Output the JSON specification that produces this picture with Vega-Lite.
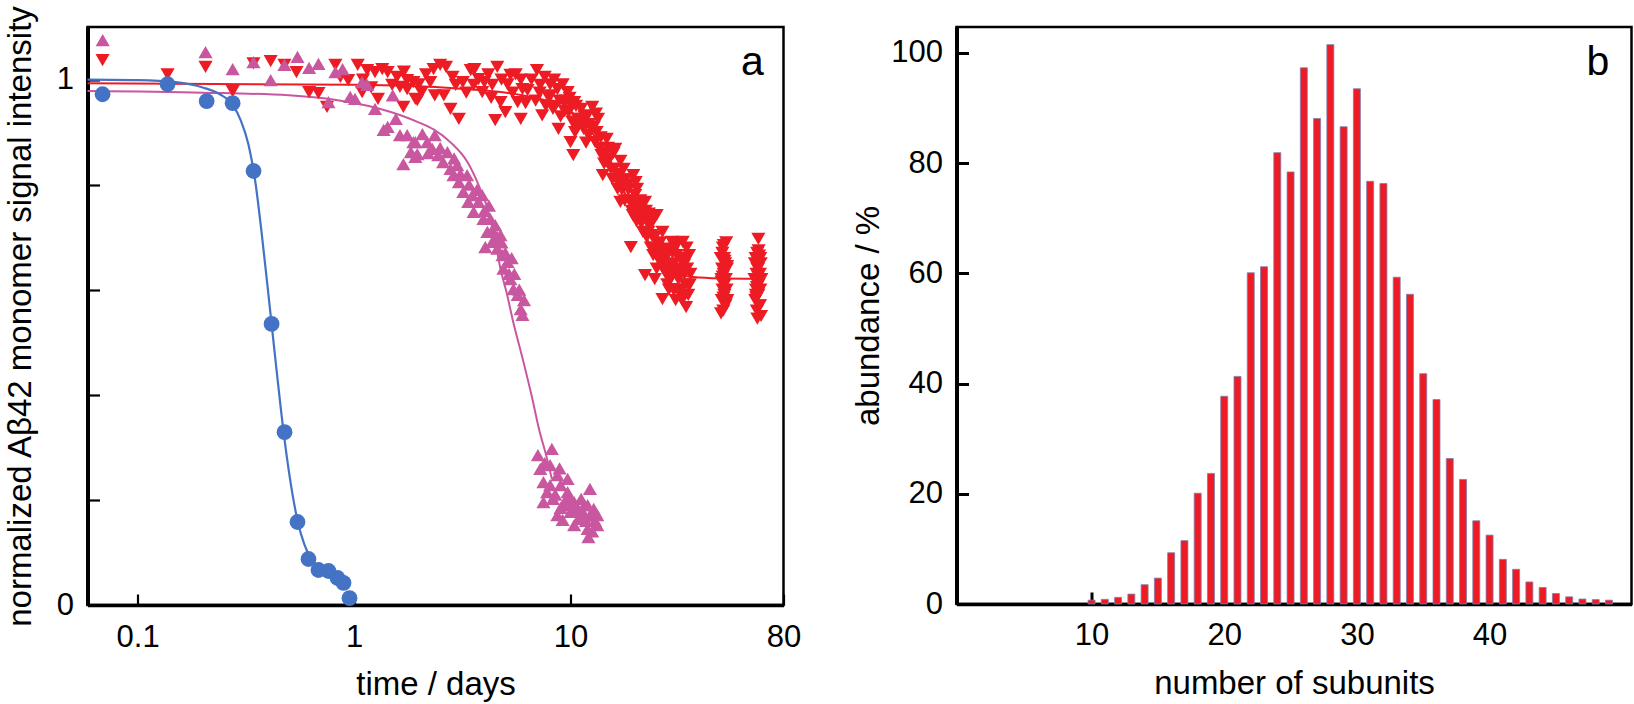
{
  "$schema": "https://vega.github.io/schema/vega-lite/v6.json",
  "background": "white",
  "padding": {"left": 2.5, "top": 3, "right": 1, "bottom": 0},
  "spacing": 173,
  "bounds": "flush",
  "config": {
    "font": "Liberation Sans",
    "view": {"stroke": "black", "strokeWidth": 2.5},
    "axis": {
      "domainColor": "black", "domainWidth": 3.5, "tickColor": "black",
      "labelColor": "black", "titleColor": "black",
      "labelFont": "Liberation Sans", "titleFont": "Liberation Sans",
      "labelFontSize": 31, "titleFontSize": 33, "titleFontWeight": "normal",
      "grid": false, "labelFlush": false, "tickSize": -12, "tickWidth": 2.2
    }
  },
  "datasets": {
    "blue": [
      {"t":0.0689,"v":0.972},{"t":0.1376,"v":0.991},{"t":0.2085,"v":0.959},{"t":0.2748,"v":0.955},
      {"t":0.3434,"v":0.826},{"t":0.416,"v":0.535},{"t":0.4775,"v":0.329},{"t":0.548,"v":0.158},
      {"t":0.616,"v":0.0875},{"t":0.685,"v":0.0666},{"t":0.762,"v":0.0647},{"t":0.839,"v":0.0514},
      {"t":0.894,"v":0.042},{"t":0.953,"v":0.013}
    ],
    "fitBlue": [
      {"t":0.0587,"v":1.0},{"t":0.1,"v":0.999},{"t":0.15,"v":0.995},{"t":0.2,"v":0.985},{"t":0.24,"v":0.972},
      {"t":0.275,"v":0.952},{"t":0.3,"v":0.922},{"t":0.325,"v":0.877},{"t":0.35,"v":0.805},{"t":0.375,"v":0.705},
      {"t":0.4,"v":0.6},{"t":0.43,"v":0.48},{"t":0.46,"v":0.37},{"t":0.49,"v":0.28},{"t":0.52,"v":0.21},
      {"t":0.55,"v":0.158},{"t":0.59,"v":0.115},{"t":0.63,"v":0.09},{"t":0.7,"v":0.07},{"t":0.8,"v":0.055},{"t":0.9,"v":0.04}
    ],
    "fitMagenta": [
      {"t":0.0587,"v":0.978},{"t":0.2,"v":0.975},{"t":0.5,"v":0.97},{"t":0.8,"v":0.962},{"t":1.0,"v":0.955},
      {"t":1.3,"v":0.945},{"t":1.64,"v":0.932},{"t":2.0,"v":0.918},{"t":2.33,"v":0.905},{"t":2.8,"v":0.88},
      {"t":3.34,"v":0.843},{"t":3.8,"v":0.795},{"t":4.14,"v":0.754},{"t":4.5,"v":0.69},{"t":4.75,"v":0.64},
      {"t":5.1,"v":0.59},{"t":5.4,"v":0.544},{"t":6.0,"v":0.47},{"t":6.6,"v":0.4},{"t":7.2,"v":0.33},
      {"t":7.66,"v":0.29},{"t":8.2,"v":0.24}
    ],
    "fitRed": [
      {"t":0.0587,"v":0.993},{"t":1,"v":0.99},{"t":3,"v":0.983},{"t":6,"v":0.97},{"t":8,"v":0.958},
      {"t":10,"v":0.94},{"t":12,"v":0.91},{"t":14,"v":0.87},{"t":16,"v":0.83},{"t":18,"v":0.78},
      {"t":20,"v":0.74},{"t":23,"v":0.69},{"t":26,"v":0.655},{"t":30,"v":0.635},{"t":35,"v":0.625},
      {"t":45,"v":0.622},{"t":76,"v":0.621}
    ],
    "magenta": [
      {"t":0.069,"v":1.075},{"t":0.206,"v":1.052},{"t":0.275,"v":1.02},{"t":0.343,"v":1.033},{"t":0.412,"v":0.999},
      {"t":0.477,"v":1.028},{"t":0.548,"v":1.043},{"t":0.62,"v":1.022},{"t":0.685,"v":1.03},{"t":0.762,"v":0.957},
      {"t":0.82,"v":1.014},{"t":0.885,"v":1.02},{"t":0.96,"v":0.967},{"t":1.01,"v":0.963},{"t":1.09,"v":0.995},
      {"t":1.15,"v":0.99},{"t":1.25,"v":0.944},{"t":1.37,"v":0.904},{"t":1.43,"v":0.91},{"t":1.51,"v":0.97},
      {"t":1.56,"v":0.925},{"t":1.63,"v":0.894},{"t":1.69,"v":0.839},{"t":1.76,"v":0.894},{"t":1.83,"v":0.862},
      {"t":1.92,"v":0.853},{"t":1.92,"v":0.881},{"t":1.88,"v":0.881},{"t":1.96,"v":0.858},{"t":2.07,"v":0.896},
      {"t":2.18,"v":0.881},{"t":2.3,"v":0.868},{"t":2.36,"v":0.894},{"t":2.45,"v":0.856},{"t":2.58,"v":0.843},
      {"t":2.7,"v":0.862},{"t":2.79,"v":0.83},{"t":2.88,"v":0.818},{"t":3.0,"v":0.837},{"t":3.05,"v":0.805},
      {"t":3.2,"v":0.786},{"t":3.33,"v":0.818},{"t":3.37,"v":0.767},{"t":3.52,"v":0.78},{"t":3.57,"v":0.748},
      {"t":3.76,"v":0.767},{"t":3.91,"v":0.78},{"t":3.96,"v":0.735},{"t":4.04,"v":0.681},{"t":4.13,"v":0.71},
      {"t":4.26,"v":0.735},{"t":4.35,"v":0.691},{"t":4.49,"v":0.723},{"t":4.59,"v":0.678},{"t":4.75,"v":0.704},
      {"t":4.85,"v":0.666},{"t":4.9,"v":0.64},{"t":5.12,"v":0.653},{"t":5.28,"v":0.62},{"t":5.45,"v":0.601},
      {"t":5.7,"v":0.59},{"t":5.89,"v":0.563},{"t":6.0,"v":0.552},{"t":2.2,"v":0.86},{"t":2.5,"v":0.87},
      {"t":2.9,"v":0.85},{"t":3.1,"v":0.82},{"t":3.4,"v":0.8},{"t":3.7,"v":0.79},{"t":4.0,"v":0.75},
      {"t":4.2,"v":0.76},{"t":4.4,"v":0.71},{"t":4.6,"v":0.7},{"t":5.0,"v":0.67},{"t":5.2,"v":0.63},
      {"t":5.5,"v":0.63},{"t":5.8,"v":0.6},{"t":6.1,"v":0.58},{"t":4.8,"v":0.69},{"t":5.35,"v":0.66},
      {"t":7.07,"v":0.285},{"t":8.2,"v":0.297},{"t":7.25,"v":0.259},{"t":8.05,"v":0.266},{"t":7.5,"v":0.234},
      {"t":8.7,"v":0.247},{"t":7.8,"v":0.215},{"t":9.0,"v":0.228},{"t":9.7,"v":0.215},{"t":7.5,"v":0.196},
      {"t":8.3,"v":0.202},{"t":9.3,"v":0.19},{"t":10.4,"v":0.196},{"t":11.2,"v":0.202},{"t":12.3,"v":0.221},
      {"t":12.0,"v":0.19},{"t":12.8,"v":0.183},{"t":13.3,"v":0.171},{"t":9.2,"v":0.162},{"t":10.4,"v":0.152},
      {"t":11.2,"v":0.164},{"t":12.0,"v":0.145},{"t":12.1,"v":0.129},{"t":13.3,"v":0.152},{"t":11.4,"v":0.177},
      {"t":10.0,"v":0.177},{"t":8.7,"v":0.171},{"t":8.05,"v":0.228},{"t":9.7,"v":0.24},{"t":8.5,"v":0.21},
      {"t":9.5,"v":0.2},{"t":10.2,"v":0.19},{"t":10.8,"v":0.18},{"t":11.6,"v":0.19},{"t":12.5,"v":0.17},
      {"t":13.0,"v":0.16},{"t":11.8,"v":0.16},{"t":10.9,"v":0.165},{"t":12.6,"v":0.14},{"t":9.0,"v":0.185},
      {"t":9.9,"v":0.205},{"t":7.6,"v":0.27},{"t":8.9,"v":0.26}
    ],
    "red": [
      {"t":0.0689,"v":1.037},{"t":0.1376,"v":1.01},{"t":0.206,"v":1.024},{"t":0.275,"v":0.978},{"t":0.343,"v":1.031},
      {"t":0.412,"v":1.035},{"t":0.477,"v":1.028},{"t":0.542,"v":1.014},{"t":0.62,"v":0.976},{"t":0.685,"v":0.974},
      {"t":0.75,"v":0.948},{"t":0.82,"v":1.028},{"t":0.865,"v":1.005},{"t":0.94,"v":0.999},{"t":1.04,"v":1.028},
      {"t":1.09,"v":0.976},{"t":1.15,"v":1.018},{"t":1.25,"v":1.014},{"t":1.29,"v":0.963},{"t":1.43,"v":1.014},
      {"t":1.58,"v":1.005},{"t":1.63,"v":0.986},{"t":1.69,"v":0.948},{"t":1.76,"v":0.982},{"t":1.88,"v":0.995},
      {"t":1.96,"v":0.961},{"t":1.76,"v":0.999},{"t":1.92,"v":0.963},{"t":1.99,"v":0.991},{"t":2.15,"v":1.01},
      {"t":2.33,"v":1.02},{"t":2.36,"v":0.97},{"t":2.5,"v":1.028},{"t":2.66,"v":1.024},{"t":2.79,"v":0.944},
      {"t":2.95,"v":0.99},{"t":3.05,"v":0.925},{"t":3.18,"v":0.995},{"t":3.46,"v":1.018},{"t":3.57,"v":0.99},
      {"t":3.76,"v":1.001},{"t":3.91,"v":0.976},{"t":4.17,"v":1.01},{"t":4.35,"v":0.99},{"t":4.49,"v":0.923},
      {"t":4.59,"v":1.024},{"t":4.75,"v":0.957},{"t":5.0,"v":0.938},{"t":5.12,"v":0.991},{"t":5.28,"v":1.009},
      {"t":5.58,"v":1.01},{"t":5.7,"v":0.957},{"t":5.89,"v":0.925},{"t":6.0,"v":0.982},{"t":6.33,"v":0.98},
      {"t":7.0,"v":1.018},{"t":7.25,"v":0.99},{"t":7.4,"v":0.932},{"t":7.6,"v":1.005},{"t":7.9,"v":0.967},
      {"t":8.05,"v":0.991},{"t":8.3,"v":0.944},{"t":8.7,"v":0.982},{"t":8.8,"v":0.906},{"t":9.2,"v":0.991},
      {"t":9.3,"v":0.957},{"t":9.7,"v":0.976},{"t":9.8,"v":0.938},{"t":10.0,"v":0.881},{"t":10.3,"v":0.856},
      {"t":10.4,"v":0.957},{"t":10.8,"v":0.925},{"t":11.2,"v":0.944},{"t":11.5,"v":0.906},{"t":12.0,"v":0.932},
      {"t":12.1,"v":0.894},{"t":12.6,"v":0.948},{"t":13.0,"v":0.881},{"t":13.4,"v":0.925},{"t":13.9,"v":0.856},
      {"t":14.1,"v":0.818},{"t":14.7,"v":0.887},{"t":14.8,"v":0.843},{"t":15.6,"v":0.811},{"t":16.1,"v":0.868},
      {"t":16.5,"v":0.792},{"t":17.0,"v":0.767},{"t":17.6,"v":0.83},{"t":18.3,"v":0.799},{"t":19.0,"v":0.767},
      {"t":19.4,"v":0.742},{"t":19.5,"v":0.818},{"t":20.3,"v":0.792},{"t":20.9,"v":0.754},{"t":21.4,"v":0.729},
      {"t":22.1,"v":0.767},{"t":22.8,"v":0.735},{"t":23.7,"v":0.704},{"t":24.1,"v":0.666},{"t":25.0,"v":0.742},
      {"t":25.4,"v":0.685},{"t":26.3,"v":0.653},{"t":26.6,"v":0.71},{"t":27.8,"v":0.678},{"t":27.8,"v":0.628},
      {"t":28.8,"v":0.647},{"t":29.4,"v":0.691},{"t":29.8,"v":0.601},{"t":31.0,"v":0.666},{"t":31.5,"v":0.62},
      {"t":32.3,"v":0.59},{"t":33.0,"v":0.691},{"t":33.4,"v":0.647},{"t":34.2,"v":0.567},{"t":34.9,"v":0.609},
      {"t":35.3,"v":0.666},{"t":19.0,"v":0.681},{"t":22.1,"v":0.628},{"t":26.6,"v":0.582},
      {"t":8.5,"v":0.95},{"t":9.0,"v":0.93},{"t":9.5,"v":0.96},{"t":10.2,"v":0.92},{"t":10.6,"v":0.95},
      {"t":11.6,"v":0.93},{"t":12.8,"v":0.91},{"t":10.5,"v":0.9},{"t":11.0,"v":0.92},{"t":11.8,"v":0.88},
      {"t":12.4,"v":0.91},{"t":13.2,"v":0.9},{"t":13.6,"v":0.87},{"t":14.4,"v":0.86},{"t":15.2,"v":0.85},
      {"t":15.9,"v":0.83},{"t":16.8,"v":0.82},{"t":17.3,"v":0.79},{"t":18.0,"v":0.81},{"t":18.7,"v":0.77},
      {"t":19.8,"v":0.76},{"t":20.6,"v":0.74},{"t":21.0,"v":0.77},{"t":21.8,"v":0.74},{"t":22.5,"v":0.7},
      {"t":23.2,"v":0.72},{"t":24.5,"v":0.7},{"t":25.6,"v":0.67},{"t":26.0,"v":0.69},{"t":27.0,"v":0.66},
      {"t":27.3,"v":0.64},{"t":28.3,"v":0.67},{"t":29.0,"v":0.62},{"t":30.0,"v":0.65},{"t":30.5,"v":0.68},
      {"t":31.8,"v":0.64},{"t":32.6,"v":0.66},{"t":33.8,"v":0.61},{"t":34.6,"v":0.64},{"t":35.8,"v":0.63},
      {"t":32.0,"v":0.6},{"t":30.6,"v":0.58},{"t":28.5,"v":0.6},{"t":25.0,"v":0.64},{"t":24.5,"v":0.62},
      {"t":1.1,"v":1.0},{"t":1.2,"v":0.985},{"t":1.35,"v":1.02},{"t":1.5,"v":0.99},{"t":1.7,"v":1.015},
      {"t":2.05,"v":0.975},{"t":2.25,"v":0.995},{"t":2.6,"v":0.97},{"t":2.85,"v":1.005},{"t":3.3,"v":0.975},
      {"t":3.6,"v":1.02},{"t":4.0,"v":0.995},{"t":4.3,"v":0.965},{"t":4.8,"v":1.0},{"t":5.4,"v":0.975},
      {"t":5.9,"v":1.0},{"t":6.2,"v":0.955},{"t":6.6,"v":1.0},{"t":6.9,"v":0.96},{"t":7.2,"v":0.975},
      {"t":7.7,"v":0.95},{"t":8.1,"v":0.97},{"t":8.4,"v":1.0},{"t":8.9,"v":0.96},{"t":9.4,"v":0.94},
      {"t":9.9,"v":0.965},{"t":10.1,"v":0.95},{"t":10.7,"v":0.91},{"t":11.3,"v":0.925},{"t":12.2,"v":0.915},
      {"t":13.1,"v":0.935},{"t":13.8,"v":0.89},{"t":14.3,"v":0.84},{"t":14.9,"v":0.87},{"t":15.4,"v":0.83},
      {"t":15.8,"v":0.86},{"t":16.3,"v":0.81},{"t":16.9,"v":0.8},{"t":17.4,"v":0.81},{"t":17.8,"v":0.77},
      {"t":18.5,"v":0.79},{"t":19.2,"v":0.75},{"t":19.9,"v":0.78},{"t":20.2,"v":0.73},{"t":21.2,"v":0.75},
      {"t":21.6,"v":0.71},{"t":22.3,"v":0.75},{"t":22.9,"v":0.71},{"t":23.5,"v":0.68},{"t":23.9,"v":0.73},
      {"t":24.8,"v":0.68},{"t":25.3,"v":0.66},{"t":26.8,"v":0.64},{"t":27.5,"v":0.66},{"t":28.0,"v":0.61},
      {"t":29.2,"v":0.64},{"t":30.2,"v":0.6},{"t":30.8,"v":0.63},{"t":31.2,"v":0.69},{"t":32.0,"v":0.63},
      {"t":32.8,"v":0.58},{"t":33.6,"v":0.63},{"t":34.4,"v":0.68},{"t":35.0,"v":0.59},{"t":35.6,"v":0.61},
      {"t":34.0,"v":0.655},{"t":29.6,"v":0.67},{"t":26.2,"v":0.675},{"t":23.0,"v":0.745},{"t":20.0,"v":0.805},
      {"t":17.0,"v":0.845},
      {"t":49.5,"v":0.66},{"t":49.8,"v":0.62},{"t":50.0,"v":0.58},{"t":50.2,"v":0.64},{"t":50.4,"v":0.6},
      {"t":50.6,"v":0.68},{"t":50.8,"v":0.56},{"t":51.0,"v":0.63},{"t":51.2,"v":0.66},{"t":51.4,"v":0.59},
      {"t":51.6,"v":0.61},{"t":51.8,"v":0.65},{"t":52.0,"v":0.57},{"t":52.2,"v":0.62},{"t":52.4,"v":0.69},
      {"t":52.6,"v":0.6},{"t":52.8,"v":0.64},{"t":53.0,"v":0.58},{"t":49.6,"v":0.555},{"t":50.3,"v":0.67},
      {"t":51.5,"v":0.655},{"t":52.3,"v":0.575},{"t":50.9,"v":0.585},{"t":49.9,"v":0.615},{"t":52.9,"v":0.645},
      {"t":51.1,"v":0.685},{"t":50.5,"v":0.625},
      {"t":70.8,"v":0.62},{"t":71.1,"v":0.65},{"t":71.4,"v":0.58},{"t":71.7,"v":0.66},{"t":72.0,"v":0.6},
      {"t":72.3,"v":0.63},{"t":72.6,"v":0.56},{"t":72.9,"v":0.67},{"t":73.2,"v":0.61},{"t":73.5,"v":0.64},
      {"t":73.8,"v":0.59},{"t":74.1,"v":0.62},{"t":74.4,"v":0.665},{"t":74.7,"v":0.57},{"t":75.0,"v":0.63},
      {"t":75.3,"v":0.6},{"t":75.6,"v":0.65},{"t":75.9,"v":0.55},{"t":76.2,"v":0.62},{"t":71.9,"v":0.59},
      {"t":73.0,"v":0.64},{"t":74.0,"v":0.61},{"t":75.2,"v":0.66},{"t":73.8,"v":0.697},{"t":73.0,"v":0.545},
      {"t":74.0,"v":0.675},{"t":72.2,"v":0.585},{"t":75.0,"v":0.57},{"t":72.7,"v":0.605}
    ],
    "bars": [
      {"n":10,"a":0.7},{"n":11,"a":0.85},{"n":12,"a":1.2},{"n":13,"a":1.8},{"n":14,"a":3.5},{"n":15,"a":4.7},
      {"n":16,"a":9.3},{"n":17,"a":11.5},{"n":18,"a":20.1},{"n":19,"a":23.7},{"n":20,"a":37.7},{"n":21,"a":41.3},
      {"n":22,"a":60.1},{"n":23,"a":61.2},{"n":24,"a":81.9},{"n":25,"a":78.4},{"n":26,"a":97.3},{"n":27,"a":88.1},
      {"n":28,"a":101.5},{"n":29,"a":86.6},{"n":30,"a":93.5},{"n":31,"a":76.7},{"n":32,"a":76.3},{"n":33,"a":59.3},
      {"n":34,"a":56.2},{"n":35,"a":41.8},{"n":36,"a":37.1},{"n":37,"a":26.4},{"n":38,"a":22.6},{"n":39,"a":15.1},
      {"n":40,"a":12.5},{"n":41,"a":8.1},{"n":42,"a":6.3},{"n":43,"a":4.0},{"n":44,"a":3.0},{"n":45,"a":1.9},
      {"n":46,"a":1.3},{"n":47,"a":0.9},{"n":48,"a":0.8},{"n":49,"a":0.7}
    ],
    "labelA": [{"label": "a"}],
    "labelB": [{"label": "b"}]
  },
  "hconcat": [
    {
      "width": 696,
      "height": 578,
      "layer": [
        {"data": {"name": "fitRed"}, "mark": {"type": "line", "color": "#ed1c24", "strokeWidth": 2, "interpolate": "monotone"},
          "encoding": {
            "x": {"field": "t", "type": "quantitative",
              "scale": {"type": "log", "domain": [0.0587, 96.4], "nice": false},
              "axis": {"values": [0.1, 1, 10, 96.4], "title": "time / days",
                "labelExpr": "datum.value > 50 ? '80' : format(datum.value, '~g')",
                "labelPadding": 28, "titlePadding": 16, "tickSize": -11}},
            "y": {"field": "v", "type": "quantitative",
              "scale": {"domain": [0, 1.1], "nice": false, "zero": false},
              "axis": {"values": [0, 0.2, 0.4, 0.6, 0.8, 1], "title": "normalized Aβ42 monomer signal intensity",
                "labelExpr": "datum.value == 0 ? '0' : (datum.value == 1 ? '1' : '')",
                "labelPadding": 26, "titlePadding": 19, "domainWidth": 4}}
          }},
        {"data": {"name": "fitMagenta"}, "mark": {"type": "line", "color": "#c957a0", "strokeWidth": 2, "interpolate": "monotone"},
          "encoding": {
            "x": {"field": "t", "type": "quantitative",
              "scale": {"type": "log", "domain": [0.0587, 96.4], "nice": false},
              "axis": {"values": [0.1, 1, 10, 96.4], "title": "time / days",
                "labelExpr": "datum.value > 50 ? '80' : format(datum.value, '~g')",
                "labelPadding": 28, "titlePadding": 16, "tickSize": -11}},
            "y": {"field": "v", "type": "quantitative",
              "scale": {"domain": [0, 1.1], "nice": false, "zero": false},
              "axis": {"values": [0, 0.2, 0.4, 0.6, 0.8, 1], "title": "normalized Aβ42 monomer signal intensity",
                "labelExpr": "datum.value == 0 ? '0' : (datum.value == 1 ? '1' : '')",
                "labelPadding": 26, "titlePadding": 19, "domainWidth": 4}}
          }},
        {"data": {"name": "fitBlue"}, "mark": {"type": "line", "color": "#4472c4", "strokeWidth": 2.2, "interpolate": "monotone"},
          "encoding": {
            "x": {"field": "t", "type": "quantitative",
              "scale": {"type": "log", "domain": [0.0587, 96.4], "nice": false},
              "axis": {"values": [0.1, 1, 10, 96.4], "title": "time / days",
                "labelExpr": "datum.value > 50 ? '80' : format(datum.value, '~g')",
                "labelPadding": 28, "titlePadding": 16, "tickSize": -11}},
            "y": {"field": "v", "type": "quantitative",
              "scale": {"domain": [0, 1.1], "nice": false, "zero": false},
              "axis": {"values": [0, 0.2, 0.4, 0.6, 0.8, 1], "title": "normalized Aβ42 monomer signal intensity",
                "labelExpr": "datum.value == 0 ? '0' : (datum.value == 1 ? '1' : '')",
                "labelPadding": 26, "titlePadding": 19, "domainWidth": 4}}
          }},
        {"data": {"name": "red"}, "mark": {"type": "point", "shape": "triangle-down", "filled": true, "color": "#ed1c24", "opacity": 1, "size": 200},
          "encoding": {
            "x": {"field": "t", "type": "quantitative",
              "scale": {"type": "log", "domain": [0.0587, 96.4], "nice": false},
              "axis": {"values": [0.1, 1, 10, 96.4], "title": "time / days",
                "labelExpr": "datum.value > 50 ? '80' : format(datum.value, '~g')",
                "labelPadding": 28, "titlePadding": 16, "tickSize": -11}},
            "y": {"field": "v", "type": "quantitative",
              "scale": {"domain": [0, 1.1], "nice": false, "zero": false},
              "axis": {"values": [0, 0.2, 0.4, 0.6, 0.8, 1], "title": "normalized Aβ42 monomer signal intensity",
                "labelExpr": "datum.value == 0 ? '0' : (datum.value == 1 ? '1' : '')",
                "labelPadding": 26, "titlePadding": 19, "domainWidth": 4}}
          }},
        {"data": {"name": "magenta"}, "mark": {"type": "point", "shape": "triangle-up", "filled": true, "color": "#c957a0", "opacity": 1, "size": 200},
          "encoding": {
            "x": {"field": "t", "type": "quantitative",
              "scale": {"type": "log", "domain": [0.0587, 96.4], "nice": false},
              "axis": {"values": [0.1, 1, 10, 96.4], "title": "time / days",
                "labelExpr": "datum.value > 50 ? '80' : format(datum.value, '~g')",
                "labelPadding": 28, "titlePadding": 16, "tickSize": -11}},
            "y": {"field": "v", "type": "quantitative",
              "scale": {"domain": [0, 1.1], "nice": false, "zero": false},
              "axis": {"values": [0, 0.2, 0.4, 0.6, 0.8, 1], "title": "normalized Aβ42 monomer signal intensity",
                "labelExpr": "datum.value == 0 ? '0' : (datum.value == 1 ? '1' : '')",
                "labelPadding": 26, "titlePadding": 19, "domainWidth": 4}}
          }},
        {"data": {"name": "blue"}, "mark": {"type": "point", "shape": "circle", "filled": true, "color": "#4472c4", "opacity": 1, "size": 250},
          "encoding": {
            "x": {"field": "t", "type": "quantitative",
              "scale": {"type": "log", "domain": [0.0587, 96.4], "nice": false},
              "axis": {"values": [0.1, 1, 10, 96.4], "title": "time / days",
                "labelExpr": "datum.value > 50 ? '80' : format(datum.value, '~g')",
                "labelPadding": 28, "titlePadding": 16, "tickSize": -11}},
            "y": {"field": "v", "type": "quantitative",
              "scale": {"domain": [0, 1.1], "nice": false, "zero": false},
              "axis": {"values": [0, 0.2, 0.4, 0.6, 0.8, 1], "title": "normalized Aβ42 monomer signal intensity",
                "labelExpr": "datum.value == 0 ? '0' : (datum.value == 1 ? '1' : '')",
                "labelPadding": 26, "titlePadding": 19, "domainWidth": 4}}
          }},
        {"data": {"name": "labelA"},
          "mark": {"type": "text", "fontSize": 41, "font": "Liberation Sans", "align": "center", "baseline": "alphabetic", "color": "black"},
          "encoding": {
            "x": {"datum": 69.3, "type": "quantitative",
              "scale": {"type": "log", "domain": [0.0587, 96.4], "nice": false},
              "axis": {"values": [0.1, 1, 10, 96.4], "title": "time / days",
                "labelExpr": "datum.value > 50 ? '80' : format(datum.value, '~g')",
                "labelPadding": 28, "titlePadding": 16, "tickSize": -11}},
            "y": {"datum": 1.0086, "type": "quantitative",
              "scale": {"domain": [0, 1.1], "nice": false, "zero": false},
              "axis": {"values": [0, 0.2, 0.4, 0.6, 0.8, 1], "title": "normalized Aβ42 monomer signal intensity",
                "labelExpr": "datum.value == 0 ? '0' : (datum.value == 1 ? '1' : '')",
                "labelPadding": 26, "titlePadding": 19, "domainWidth": 4}},
            "text": {"field": "label", "type": "nominal"}}}
      ]
    },
    {
      "width": 675,
      "height": 577,
      "layer": [
        {"data": {"name": "bars"}, "mark": {"type": "bar", "width": 7, "color": "#ed1c24", "stroke": "#7b7fb5", "strokeWidth": 0.8},
          "encoding": {
            "x": {"field": "n", "type": "quantitative",
              "scale": {"domain": [0.198, 50.32], "nice": false, "zero": false},
              "axis": {"values": [10, 20, 30, 40], "title": "number of subunits", "labelPadding": 28, "titlePadding": 17, "tickWidth": 3}},
            "y": {"field": "a", "type": "quantitative",
              "scale": {"domain": [0, 104.7], "nice": false},
              "axis": {"values": [0, 20, 40, 60, 80, 100], "title": "abundance / %", "labelPadding": 26, "titlePadding": 5, "tickWidth": 3, "domainWidth": 4}}
          }},
        {"data": {"name": "labelB"},
          "mark": {"type": "text", "fontSize": 41, "font": "Liberation Sans", "align": "center", "baseline": "alphabetic", "color": "black"},
          "encoding": {
            "x": {"datum": 48.17, "type": "quantitative",
              "scale": {"domain": [0.198, 50.32], "nice": false, "zero": false},
              "axis": {"values": [10, 20, 30, 40], "title": "number of subunits", "labelPadding": 28, "titlePadding": 17, "tickWidth": 3}},
            "y": {"datum": 96, "type": "quantitative",
              "scale": {"domain": [0, 104.7], "nice": false},
              "axis": {"values": [0, 20, 40, 60, 80, 100], "title": "abundance / %", "labelPadding": 26, "titlePadding": 5, "tickWidth": 3, "domainWidth": 4}},
            "text": {"field": "label", "type": "nominal"}}}
      ]
    }
  ]
}
